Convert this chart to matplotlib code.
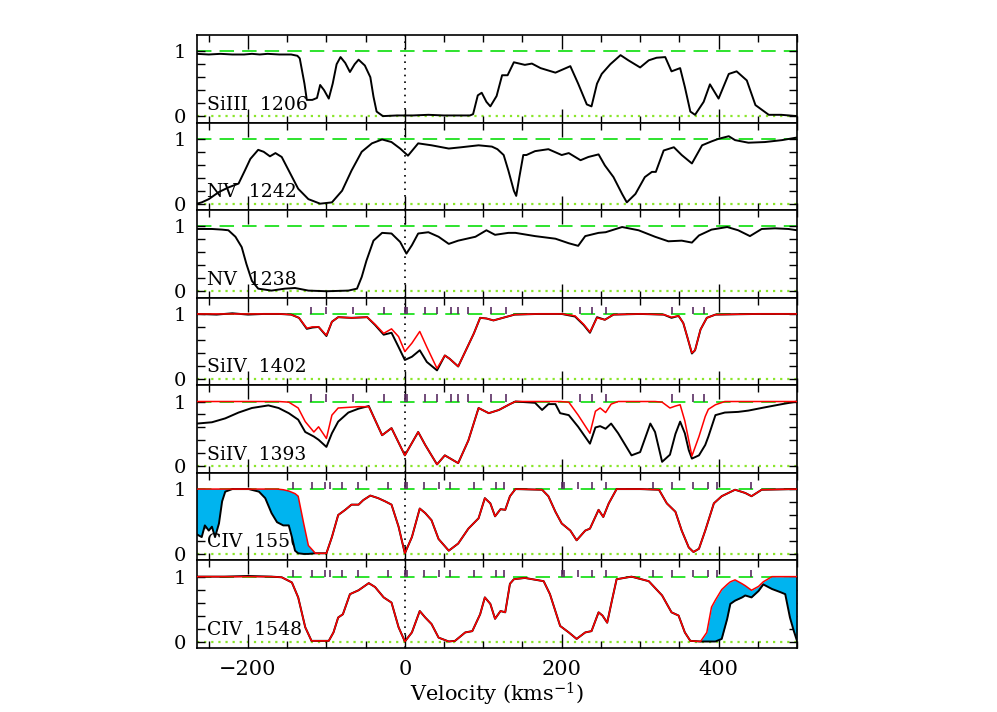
import numpy as np
import matplotlib
matplotlib.use('Agg')
import matplotlib.pyplot as plt
from matplotlib.ticker import MultipleLocator

plt.rcParams['font.family'] = 'DejaVu Serif'
plt.rcParams['mathtext.fontset'] = 'dejavuserif'

# panel labels, top to bottom
labels = ['SiIII  1206', 'NV  1242', 'NV  1238', 'SiIV  1402', 'SiIV  1393', 'CIV  1550', 'CIV  1548']

# SiIII 1206 (data only)
vel_siiii = [-265, -250, -235, -220, -205, -195, -185, -175, -160, -145, -137, -134, -128, -125, -118,
             -112, -108, -103, -97, -92, -87, -82, -76, -70, -64, -59, -51, -44, -40, -36,
             -28, -10, 10, 30, 50, 70, 83, 87, 93, 98, 104, 109, 117, 124, 131,
             139, 153, 162, 173, 192, 211, 221, 232, 238, 245, 251, 262, 275, 285, 300,
             311, 321, 332, 340, 351, 357, 364, 370, 381, 389, 400, 413, 423, 436, 447,
             464, 480, 500]
flux_siiii = [0.96, 0.95, 0.96, 0.95, 0.95, 0.96, 0.95, 0.96, 0.95, 0.95, 0.93, 0.89, 0.50, 0.25, 0.25,
              0.28, 0.48, 0.40, 0.27, 0.50, 0.80, 0.91, 0.82, 0.68, 0.80, 0.87, 0.78, 0.60, 0.30, 0.07,
              0.00, 0.01, 0.01, 0.02, 0.01, 0.01, 0.01, 0.03, 0.32, 0.36, 0.22, 0.15, 0.31, 0.63, 0.63,
              0.83, 0.79, 0.81, 0.74, 0.67, 0.77, 0.50, 0.18, 0.15, 0.50, 0.65, 0.80, 0.94, 0.86, 0.75,
              0.86, 0.90, 0.91, 0.69, 0.74, 0.45, 0.07, 0.02, 0.22, 0.49, 0.27, 0.65, 0.69, 0.55, 0.17,
              0.02, 0.02, 0.00]

# NV 1242
vel_nv1242 = [-265, -259, -250, -237, -225, -212, -204, -197, -187, -180, -172, -165, -157, -148, -136,
              -123, -108, -93, -80, -68, -55, -42, -29, -17, -6, 4, 17, 34, 56, 72,
              94, 111, 118, 126, 132, 139, 142, 146, 151, 155, 166, 183, 200, 209, 224,
              234, 247, 255, 266, 277, 283, 294, 306, 315, 320, 330, 343, 353, 366, 379,
              391, 400, 413, 421, 438, 459, 481, 500]
flux_nv1242 = [0.00, 0.02, 0.07, 0.18, 0.25, 0.31, 0.51, 0.69, 0.83, 0.80, 0.73, 0.78, 0.72, 0.51, 0.23,
               0.07, 0.00, 0.02, 0.20, 0.51, 0.80, 0.93, 0.99, 0.95, 0.85, 0.74, 0.93, 0.90, 0.85, 0.87,
               0.90, 0.88, 0.84, 0.75, 0.51, 0.20, 0.12, 0.41, 0.75, 0.75, 0.81, 0.84, 0.75, 0.78, 0.67,
               0.72, 0.76, 0.59, 0.41, 0.15, 0.02, 0.15, 0.41, 0.49, 0.49, 0.82, 0.87, 0.75, 0.62, 0.90,
               0.96, 1.00, 1.04, 0.98, 0.94, 0.95, 0.98, 1.02]

# NV 1238
vel_nv1238 = [-265, -259, -246, -233, -225, -216, -208, -202, -195, -187, -170, -153, -140, -123, -100,
              -72, -61, -55, -49, -40, -29, -17, -6, 2, 9, 17, 30, 43, 56, 68,
              90, 104, 115, 132, 141, 166, 192, 209, 221, 230, 247, 256, 277, 298, 319,
              336, 353, 366, 375, 391, 411, 425, 440, 455, 472, 489, 500]
flux_nv1238 = [0.96, 0.96, 0.96, 0.95, 0.94, 0.84, 0.68, 0.42, 0.16, 0.04, 0.01, 0.04, 0.05, 0.01, 0.00,
               0.01, 0.04, 0.22, 0.47, 0.78, 0.90, 0.89, 0.76, 0.58, 0.71, 0.89, 0.91, 0.84, 0.73, 0.78,
               0.84, 0.94, 0.87, 0.90, 0.90, 0.85, 0.81, 0.74, 0.70, 0.85, 0.90, 0.91, 0.99, 0.94, 0.84,
               0.77, 0.78, 0.75, 0.86, 0.95, 0.99, 0.94, 0.85, 0.96, 0.97, 0.96, 0.94]

# SiIV 1402 data and fit
vel_siiv1402 = [-265, -240, -220, -200, -180, -160, -145, -135, -125, -118, -110, -100, -93, -85, -68,
                -48, -38, -27, -17, -8, 0, 9, 19, 28, 41, 51, 57, 68, 79, 88,
                96, 104, 113, 128, 140, 170, 200, 217, 228, 236, 245, 255, 266, 300, 330,
                340, 349, 355, 360, 366, 370, 377, 385, 396, 450, 500]
flux_siiv1402 = [1.00, 0.99, 1.01, 0.99, 1.00, 1.00, 0.99, 0.94, 0.77, 0.79, 0.80, 0.66, 0.88, 0.95, 0.94,
                 0.95, 0.83, 0.68, 0.71, 0.49, 0.29, 0.34, 0.44, 0.26, 0.13, 0.36, 0.31, 0.19, 0.47, 0.70,
                 0.94, 0.93, 0.90, 0.95, 0.99, 1.00, 1.00, 0.96, 0.83, 0.71, 0.95, 0.91, 0.99, 1.00, 0.99,
                 0.94, 0.97, 0.86, 0.65, 0.39, 0.44, 0.76, 0.94, 0.99, 1.00, 1.00]
fit_siiv1402 = [1.00, 1.00, 1.00, 1.00, 1.00, 1.00, 0.99, 0.94, 0.78, 0.80, 0.80, 0.67, 0.88, 0.95, 0.94,
                0.95, 0.84, 0.70, 0.77, 0.65, 0.42, 0.55, 0.73, 0.49, 0.16, 0.36, 0.31, 0.19, 0.47, 0.70,
                0.94, 0.93, 0.90, 0.95, 0.99, 1.00, 1.00, 0.97, 0.84, 0.72, 0.94, 0.91, 0.99, 1.00, 0.99,
                0.95, 0.97, 0.86, 0.65, 0.40, 0.44, 0.76, 0.94, 0.99, 1.00, 1.00]

# SiIV 1393 data and fit
vel_siiv1393 = [-265, -246, -229, -212, -195, -174, -161, -148, -136, -127, -116, -110, -100, -93, -85,
                -72, -59, -46, -40, -29, -17, 0, 17, 26, 41, 51, 68, 81, 94, 107,
                120, 134, 141, 166, 175, 183, 192, 198, 209, 221, 236, 243, 249, 256, 263,
                272, 289, 300, 313, 319, 328, 338, 345, 351, 357, 362, 366, 375, 383, 387,
                396, 408, 425, 438, 459, 481, 500]
flux_siiv1393 = [0.66, 0.68, 0.74, 0.83, 0.90, 0.94, 0.90, 0.82, 0.72, 0.53, 0.46, 0.41, 0.30, 0.51, 0.69,
                 0.83, 0.89, 0.93, 0.77, 0.48, 0.59, 0.17, 0.53, 0.33, 0.03, 0.17, 0.05, 0.40, 0.90, 0.82,
                 0.87, 0.96, 1.00, 0.98, 0.87, 0.96, 0.96, 0.82, 0.79, 0.61, 0.35, 0.60, 0.62, 0.58, 0.66,
                 0.51, 0.17, 0.22, 0.66, 0.53, 0.07, 0.18, 0.50, 0.69, 0.51, 0.25, 0.12, 0.17, 0.33, 0.46,
                 0.79, 0.83, 0.84, 0.86, 0.91, 0.96, 1.00]
fit_siiv1393 = [1.00, 1.00, 1.00, 1.00, 1.00, 1.00, 1.00, 0.99, 0.90, 0.69, 0.53, 0.61, 0.43, 0.79, 0.90,
                0.91, 0.92, 0.92, 0.77, 0.48, 0.59, 0.17, 0.53, 0.33, 0.03, 0.17, 0.05, 0.40, 0.90, 0.82,
                0.87, 0.96, 1.00, 1.00, 1.00, 1.00, 1.00, 1.00, 0.99, 0.79, 0.51, 0.85, 0.90, 0.83, 0.96,
                1.00, 1.00, 1.00, 1.00, 1.00, 0.99, 0.90, 0.93, 0.95, 0.70, 0.40, 0.16, 0.46, 0.77, 0.88,
                0.95, 1.00, 1.00, 1.00, 1.00, 1.00, 1.00]

# CIV 1550 data and fit
vel_civ1550 = [-265, -259, -255, -250, -246, -242, -237, -233, -229, -220, -199, -186, -178, -170, -163,
               -155, -148, -144, -140, -136, -129, -123, -114, -100, -93, -85, -76, -68, -59, -53,
               -44, -34, -25, -17, -8, 0, 9, 19, 26, 34, 43, 56, 68, 81, 94,
               102, 109, 115, 122, 128, 134, 141, 175, 183, 192, 200, 211, 219, 230, 236,
               247, 253, 260, 270, 300, 324, 334, 345, 353, 362, 368, 375, 383, 394, 404,
               421, 434, 442, 455, 500]
flux_civ1550 = [0.30, 0.26, 0.44, 0.36, 0.42, 0.26, 0.47, 0.81, 0.96, 1.00, 1.00, 0.96, 0.86, 0.63, 0.49,
                0.44, 0.44, 0.26, 0.05, 0.01, 0.00, 0.00, 0.01, 0.01, 0.26, 0.60, 0.68, 0.76, 0.76, 0.83,
                0.90, 0.86, 0.81, 0.76, 0.42, 0.01, 0.26, 0.70, 0.63, 0.52, 0.23, 0.05, 0.16, 0.39, 0.55,
                0.86, 0.78, 0.58, 0.69, 0.68, 0.89, 1.00, 0.99, 0.89, 0.65, 0.47, 0.36, 0.21, 0.36, 0.39,
                0.68, 0.57, 0.78, 1.00, 1.00, 0.99, 0.78, 0.65, 0.36, 0.10, 0.03, 0.08, 0.36, 0.78, 0.89,
                0.99, 0.94, 0.89, 0.99, 1.00]
fit_civ1550 = [1.00, 1.00, 1.00, 1.00, 1.00, 1.00, 1.00, 1.00, 1.00, 1.00, 1.00, 1.00, 1.00, 1.00, 1.00,
               0.99, 0.97, 0.95, 0.93, 0.89, 0.47, 0.13, 0.01, 0.01, 0.26, 0.60, 0.68, 0.76, 0.76, 0.83,
               0.90, 0.86, 0.81, 0.76, 0.42, 0.01, 0.26, 0.70, 0.63, 0.52, 0.23, 0.05, 0.16, 0.39, 0.55,
               0.86, 0.78, 0.58, 0.69, 0.68, 0.89, 1.00, 0.99, 0.89, 0.65, 0.47, 0.36, 0.21, 0.36, 0.39,
               0.68, 0.57, 0.78, 1.00, 1.00, 0.99, 0.78, 0.65, 0.36, 0.10, 0.03, 0.08, 0.36, 0.78, 0.89,
               0.99, 0.94, 0.89, 0.99, 1.00]

# CIV 1548 data and fit
vel_civ1548 = [-265, -230, -200, -170, -157, -144, -136, -127, -119, -97, -91, -85, -79, -70, -59,
               -46, -38, -27, -17, -8, 0, 9, 19, 26, 34, 43, 56, 64, 77, 86,
               96, 102, 109, 115, 122, 128, 134, 139, 153, 177, 185, 198, 209, 219, 230,
               238, 247, 252, 258, 264, 270, 289, 311, 328, 340, 349, 357, 364, 377, 385,
               391, 396, 404, 411, 415, 421, 430, 434, 442, 451, 457, 468, 479, 485, 491,
               496, 500]
flux_civ1548 = [1.00, 1.00, 1.01, 1.00, 0.99, 0.91, 0.68, 0.22, 0.01, 0.01, 0.14, 0.37, 0.42, 0.73, 0.79,
                0.90, 0.84, 0.68, 0.60, 0.22, 0.00, 0.14, 0.47, 0.37, 0.27, 0.06, 0.00, 0.01, 0.14, 0.16,
                0.42, 0.68, 0.58, 0.35, 0.47, 0.45, 0.89, 0.96, 0.98, 0.93, 0.73, 0.24, 0.14, 0.04, 0.14,
                0.16, 0.45, 0.40, 0.29, 0.63, 0.96, 1.00, 0.93, 0.71, 0.45, 0.40, 0.14, 0.01, 0.00, 0.00,
                0.00, 0.00, 0.04, 0.35, 0.58, 0.63, 0.68, 0.71, 0.68, 0.78, 0.88, 0.81, 0.76, 0.73, 0.37,
                0.16, 0.01]
fit_civ1548 = [1.00, 1.00, 1.00, 1.00, 0.99, 0.91, 0.68, 0.22, 0.01, 0.01, 0.14, 0.37, 0.42, 0.73, 0.79,
               0.90, 0.84, 0.68, 0.60, 0.22, 0.00, 0.14, 0.47, 0.37, 0.27, 0.06, 0.00, 0.01, 0.14, 0.16,
               0.42, 0.68, 0.58, 0.35, 0.47, 0.45, 0.89, 0.96, 0.98, 0.93, 0.73, 0.24, 0.14, 0.04, 0.14,
               0.16, 0.45, 0.40, 0.29, 0.63, 0.96, 1.00, 0.93, 0.71, 0.45, 0.40, 0.14, 0.01, 0.00, 0.14,
               0.53, 0.64, 0.80, 0.88, 0.92, 0.95, 0.89, 0.86, 0.79, 0.85, 0.92, 1.00, 1.00, 1.00, 1.00,
               1.00, 1.00]

# component positions (km/s) marked above the continuum
comp_siiv = [-120, -100, -66, -26, 0, 3, 26, 41, 59, 68, 81, 110, 129, 223, 238, 256, 340, 367, 381]
comp_civ = [-143, -118, -102, -96, -80, -60, -22, 0, 3, 25, 44, 57, 88, 116, 126,
            200, 203, 221, 238, 256, 316, 341, 368, 386, 398, 441]

xticks_major = [-200, 0, 200, 400]


def draw_panel(ax, label, vel, flux, fit=None, comps=None, shade=False):
	vel = np.array(vel)
	flux = np.array(flux)
	ax.axhline(1, color='#1ee01e', ls=(0, (8, 4.5)), lw=1.3, zorder=1)
	ax.axhline(0, color='#8ae62a', ls=(0, (1, 2.2)), lw=1.6, zorder=1)
	ax.axvline(0, color='black', ls=(0, (1, 3)), lw=1.2, zorder=1)
	if fit is not None:
		fit = np.array(fit)
		if shade:
			ax.fill_between(vel, flux, fit, where=fit > flux, interpolate=True,
							color='#00b4ef', lw=0, zorder=2)
	ax.plot(vel, flux, color='black', lw=1.4, zorder=3)
	if fit is not None:
		ax.plot(vel, fit, color='red', lw=1.1, zorder=4)
	if comps is not None:
		ax.vlines(comps, 1.0, 1.11, color='#5a2d62', lw=1.2, zorder=5)
	ax.text(-252, 0.1, label, fontsize=13.5, zorder=0)

	ax.set_xlim(-265, 500)
	ax.set_ylim(-0.1, 1.25)
	ax.set_xticks(xticks_major)
	ax.xaxis.set_minor_locator(MultipleLocator(50))
	ax.set_yticks([0, 1])
	ax.set_yticks([0.2, 0.4, 0.6, 0.8], minor=True)
	ax.tick_params(which='both', direction='in', top=True, right=True, width=1)
	ax.tick_params(axis='x', which='major', length=10)
	ax.tick_params(axis='x', which='minor', length=5)
	ax.tick_params(axis='y', which='both', length=6)
	ax.tick_params(axis='y', labelsize=14, pad=8)
	ax.tick_params(axis='x', labelsize=15, pad=9)
	for sp in ax.spines.values():
		sp.set_linewidth(1.2)


if __name__ == '__main__':
	fig, axes = plt.subplots(7, 1, figsize=(9.97, 7.12), dpi=100, sharex=True)
	fig.subplots_adjust(left=0.1976, right=0.7994, top=0.9508, bottom=0.0899, hspace=0)

	draw_panel(axes[0], labels[0], vel_siiii, flux_siiii)
	draw_panel(axes[1], labels[1], vel_nv1242, flux_nv1242)
	draw_panel(axes[2], labels[2], vel_nv1238, flux_nv1238)
	draw_panel(axes[3], labels[3], vel_siiv1402, flux_siiv1402, fit_siiv1402, comp_siiv)
	draw_panel(axes[4], labels[4], vel_siiv1393, flux_siiv1393, fit_siiv1393, comp_siiv)
	draw_panel(axes[5], labels[5], vel_civ1550, flux_civ1550, fit_civ1550, comp_civ, shade=True)
	draw_panel(axes[6], labels[6], vel_civ1548, flux_civ1548, fit_civ1548, comp_civ, shade=True)

	for ax in axes[:-1]:
		ax.tick_params(labelbottom=False)
	axes[-1].set_xticklabels(['\u2212200', '0', '200', '400'])
	axes[-1].set_xlabel('Velocity (kms$^{-1}$)', fontsize=15, labelpad=1)

	fig.savefig('out.png', dpi=100)
